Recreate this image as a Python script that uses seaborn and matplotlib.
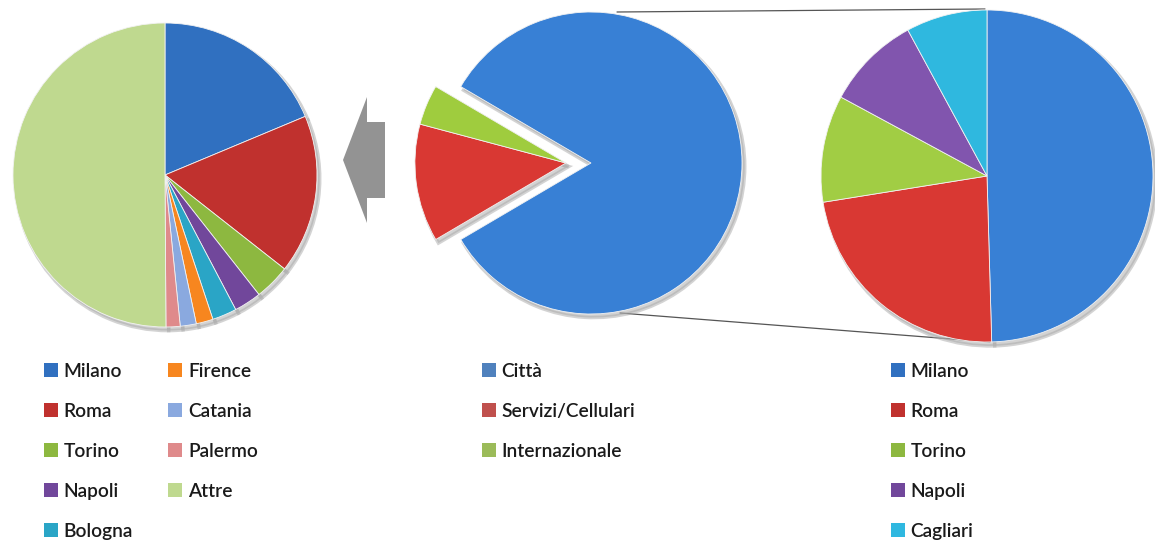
import matplotlib
matplotlib.use('Agg')
import matplotlib.pyplot as plt
import seaborn as sns
from matplotlib.patches import Patch, FancyArrow

sns.set_theme(style='white')
plt.rcParams['font.family'] = ['Lato', 'DejaVu Sans']

# left pie: calls by city (share of city traffic)
left_labels = ['Milano', 'Roma', 'Torino', 'Napoli', 'Bologna',
               'Firence', 'Catania', 'Palermo', 'Attre']
left_values = [18.7, 16.9, 3.8, 2.9, 2.6, 1.8, 1.7, 1.5, 50.1]
left_colors = ['#3070C0', '#C0312E', '#8DB840', '#71479B', '#2AA5C6',
               '#F7861F', '#8AA9DF', '#DF8A8B', '#BFD98F']

# middle pie: traffic type
mid_labels = ['Città', 'Servizi/Cellulari', 'Internazionale']
mid_values = [83.1, 12.6, 4.3]
mid_colors = ['#3880D5', '#D93833', '#9FCC3E']
mid_legend_colors = ['#4F81BD', '#C0504D', '#9BBB59']

# right pie: detail of city share
right_labels = ['Milano', 'Roma', 'Torino', 'Napoli', 'Cagliari']
right_values = [49.5, 22.9, 10.4, 9.2, 7.9]
right_colors = ['#3880D5', '#D93833', '#A1CD44', '#8155AE', '#2FB8DF']
right_legend_colors = ['#3070C0', '#C0312E', '#8DB840', '#71479B', '#2FB8E0']

W, H = 1155, 544
fig = plt.figure(figsize=(W / 100, H / 100), dpi=100)
fig.patch.set_facecolor('white')

# overlay axes in pixel coordinates for arrow / connector lines
bg = fig.add_axes([0, 0, 1, 1])
bg.set_xlim(0, W)
bg.set_ylim(H, 0)
bg.axis('off')

# shadow offsets are in data units (scaled by dpi/72)
shadow = {'ox': 0.013, 'oy': -0.017, 'facecolor': '#a8a8a8', 'edgecolor': '#a8a8a8',
          'linewidth': 2.5, 'alpha': 0.5}
wprops = {'edgecolor': '#f2f2f2', 'linewidth': 0.6}


def pie_axes(cx, cy, r, pad=1.25):
    ax = fig.add_axes([(cx - pad * r) / W, (H - cy - pad * r) / H,
                       2 * pad * r / W, 2 * pad * r / H])
    ax.set_facecolor('none')
    return ax, pad


# left pie
ax1, p = pie_axes(165, 175, 152)
ax1.pie(left_values, colors=left_colors, startangle=90, counterclock=False,
        wedgeprops=wprops, shadow=shadow)
ax1.set_xlim(-p, p)
ax1.set_ylim(-p, p)
ax1.axis('off')

# middle pie with the non-city part pulled out together
ax2, p = pie_axes(591, 163, 151)
w2, _ = ax2.pie(mid_values, colors=mid_colors, startangle=149.6, counterclock=False,
                wedgeprops=wprops, shadow=shadow)
for w in w2[1:]:
    w.set_center((-0.166, 0))
ax2.set_xlim(-p, p)
ax2.set_ylim(-p, p)
ax2.axis('off')

# right pie
ax3, p = pie_axes(987, 176, 166)
ax3.pie(right_values, colors=right_colors, startangle=90, counterclock=False,
        wedgeprops=wprops, shadow=shadow)
ax3.set_xlim(-p, p)
ax3.set_ylim(-p, p)
ax3.axis('off')

# connector lines and arrow
bg.plot([617, 985], [12, 9], color='#555555', lw=0.9)
bg.plot([620, 990], [313, 342], color='#555555', lw=0.9)
bg.add_patch(FancyArrow(385, 160, -42, 0, width=76, head_width=126, head_length=24,
                        length_includes_head=True, color='#939393', lw=0))

leg_kw = dict(loc='upper left', frameon=False, handlelength=0.72,
              handleheight=0.72, handletextpad=0.3, labelspacing=1.2,
              borderpad=0, borderaxespad=0, labelcolor='#1a1a1a')


def legend(labels, colors, x, y, ncol=1, colsp=2.0):
    handles = [Patch(facecolor=c, edgecolor='none') for c in colors]
    fig.legend(handles, labels, bbox_to_anchor=(x / W, 1 - y / H), ncol=ncol,
               columnspacing=colsp, prop={'weight': 'semibold', 'size': 13.8}, **leg_kw)


legend(left_labels, left_colors, 44, 363, ncol=2, colsp=1.85)
legend(mid_labels, mid_legend_colors, 482, 363)
legend(right_labels, right_legend_colors, 891, 363)

fig.savefig('out.png', dpi=100, facecolor='white')
